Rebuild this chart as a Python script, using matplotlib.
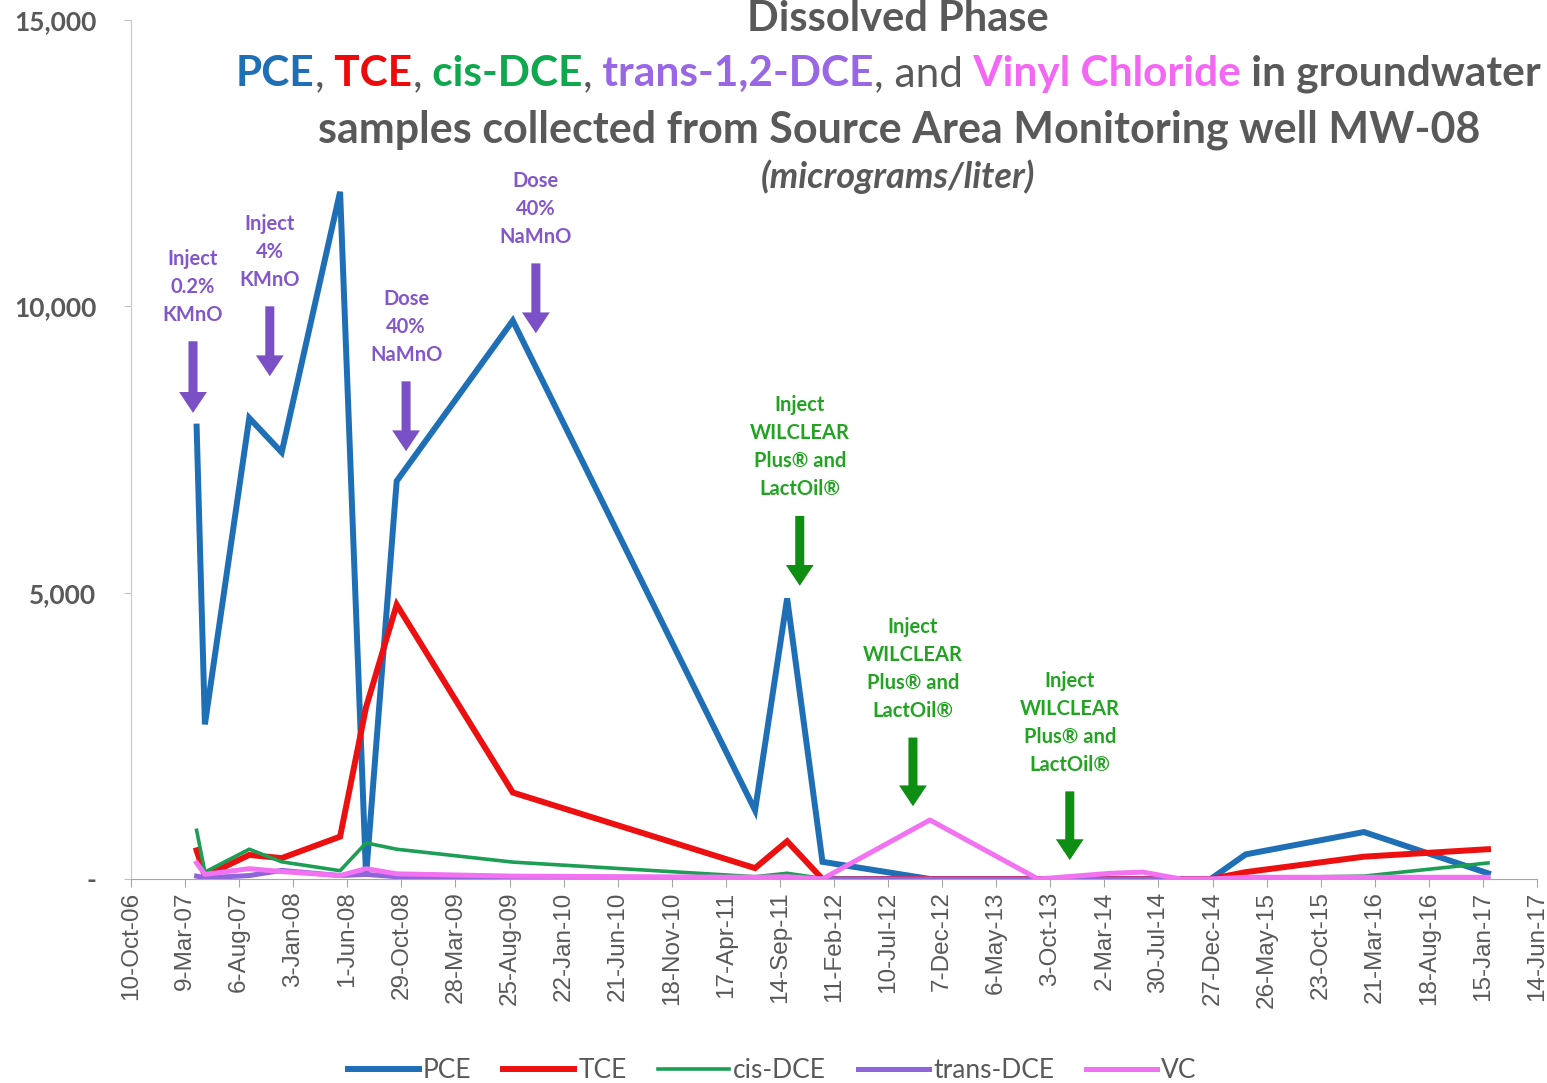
import matplotlib
matplotlib.use("Agg")
import matplotlib.pyplot as plt
import matplotlib.dates as mdates
import matplotlib.ticker as mticker
import pandas as pd

# sample dates and concentrations (ug/L)
dates = ["2007-04-10", "2007-05-03", "2007-09-03", "2007-12-02", "2008-05-12",
         "2008-07-23", "2008-10-16", "2009-09-03", "2011-07-07", "2011-10-04",
         "2012-01-10", "2012-11-03", "2013-08-30", "2014-03-20", "2014-06-17",
         "2014-09-30", "2014-12-22", "2015-03-29", "2016-02-20", "2017-01-29"]
pce = [7900, 2700, 8050, 7450, 12000, 50, 6950, 9750, 1200, 4900,
       300, 0, 0, 0, 0, 0, 0, 430, 820, 100]
tce = [500, 50, 420, 365, 740, 3000, 4790, 1510, 190, 660,
       0, 0, 0, 0, 0, 0, 0, 120, 390, 520]
cis_dce = [850, 120, 520, 300, 145, 630, 520, 295, 40, 100,
           10, 0, 0, 0, 0, 0, 0, 20, 50, 280]
trans_dce = [50, 20, 60, 150, 60, 80, 40, 20, 10, 20,
             0, 0, 0, 0, 0, 0, 0, 0, 0, 0]
vc = [280, 80, 180, 130, 60, 180, 90, 50, 30, 40,
      0, 1030, 0, 100, 120, 0, 0, 30, 30, 30]

# remediation events: (arrow date, arrow top, arrow tip, label, colour)
events = [
    ("2007-03-31", 9390, 8140, "Inject\n0.2%\nKMnO", "purple"),
    ("2007-10-30", 10000, 8780, "Inject\n4%\nKMnO", "purple"),
    ("2008-11-11", 8690, 7470, "Dose\n40%\nNaMnO", "purple"),
    ("2009-11-06", 10750, 9530, "Dose\n40%\nNaMnO", "purple"),
    ("2011-11-08", 6340, 5120, "Inject\nWILCLEAR\nPlus\u00ae and\nLactOil\u00ae", "green"),
    ("2012-09-17", 2470, 1270, "Inject\nWILCLEAR\nPlus\u00ae and\nLactOil\u00ae", "green"),
    ("2013-11-26", 1530, 330, "Inject\nWILCLEAR\nPlus\u00ae and\nLactOil\u00ae", "green"),
]

GRAY = "#595959"
W, H = 1547, 1083

fig = plt.figure(figsize=(W / 100, H / 100), dpi=100)
ax = fig.add_axes([131 / W, 1 - 879 / H, (1537 - 131) / W, (879 - 20) / H])

x = pd.to_datetime(dates)
ax.plot(x, pce, color="#1F6FB6", lw=4.3, label="PCE", solid_joinstyle="miter")
ax.plot(x, tce, color="#EC1010", lw=4.3, label="TCE", solid_joinstyle="miter")
ax.plot(x, cis_dce, color="#1C9E55", lw=2.6, label="cis-DCE")
ax.plot(x, trans_dce, color="#9065DC", lw=3.6, label="trans-DCE")
ax.plot(x, vc, color="#F272F2", lw=3.6, label="VC")

ax.set_xlim(pd.Timestamp("2006-10-10"), pd.Timestamp("2017-06-14"))
ax.set_ylim(0, 15000)

ticks = pd.date_range("2006-10-10", periods=27, freq="150D")
ax.set_xticks(ticks)
ax.xaxis.set_major_formatter(mdates.DateFormatter("%-d-%b-%y"))
plt.setp(ax.get_xticklabels(), rotation=90, family="Liberation Sans",
         fontsize=17.5, color=GRAY)
ax.set_yticks([0, 5000, 10000, 15000])
ax.yaxis.set_major_formatter(mticker.FuncFormatter(
    lambda v, p: "-" if v == 0 else f"{int(v):,}"))
plt.setp(ax.get_yticklabels(), family="Lato", fontweight="bold",
         fontsize=19, color=GRAY)
ax.tick_params(axis="x", length=6, color="#A6A6A6", pad=3)
ax.tick_params(axis="y", length=5, color="#BFBFBF", pad=20)

for s in ["top", "right"]:
    ax.spines[s].set_visible(False)
ax.spines["left"].set_color("#C8C8C8")
ax.spines["bottom"].set_color("#A6A6A6")

# arrows + labels for the injections
ev_col = {"purple": ("#8357CC", "#7B4FC6"), "green": ("#22A422", "#0E8E12")}
for d, top, tip, label, c in events:
    tc, ac = ev_col[c]
    xd = pd.Timestamp(d)
    ax.annotate("", xy=(xd, tip), xytext=(xd, top),
                arrowprops=dict(facecolor=ac, edgecolor="none", width=6.5,
                                headwidth=20, headlength=15, shrink=0))
    ax.annotate(label, xy=(xd, top), xytext=(0, 12), textcoords="offset points",
                ha="center", va="bottom", family="Lato", fontweight="bold",
                fontsize=14.5, color=tc, linespacing=1.5)

# title block
fig.text(898 / W, 1 - 31 / H, "Dissolved Phase", ha="center", va="baseline",
         family="Lato", fontweight="bold", fontsize=30, color=GRAY)

parts = [("PCE", "#1F6FB6", "bold"), (",", GRAY, "normal"),
         (" TCE", "#EE0A0A", "bold"), (",", GRAY, "normal"),
         (" cis-DCE", "#10A84E", "bold"), (",", GRAY, "normal"),
         (" trans-1,2-DCE", "#9966E6", "bold"), (", and", GRAY, "normal"),
         (" Vinyl Chloride", "#F466F4", "bold"), (" in groundwater", GRAY, "bold")]
t = fig.text(236 / W, 1 - 93 / H, parts[0][0], ha="left", va="bottom",
             family="Lato", fontweight=parts[0][2], fontsize=30.5, color=parts[0][1])
for s, c, w in parts[1:]:
    t = ax.annotate(s, xy=(1, 0), xycoords=t, ha="left", va="bottom",
                    family="Lato", fontweight=w, fontsize=30.5, color=c,
                    annotation_clip=False)

fig.text(899 / W, 1 - 143 / H, "samples collected from Source Area Monitoring well MW-08",
         ha="center", va="baseline", family="Lato", fontweight="bold",
         fontsize=31, color=GRAY)
fig.text(898 / W, 1 - 188 / H, "(micrograms/liter)", ha="center", va="baseline",
         family="Lato", fontweight="bold", style="italic", fontsize=26, color=GRAY)

leg = fig.legend(loc="lower center", bbox_to_anchor=(772 / W, -0.022), ncol=5,
                 frameon=False, handlelength=2.7, handletextpad=0.15,
                 columnspacing=1.2, prop={"family": "Lato", "size": 19})
for txt in leg.get_texts():
    txt.set_color(GRAY)

fig.savefig("out.png", dpi=100)
